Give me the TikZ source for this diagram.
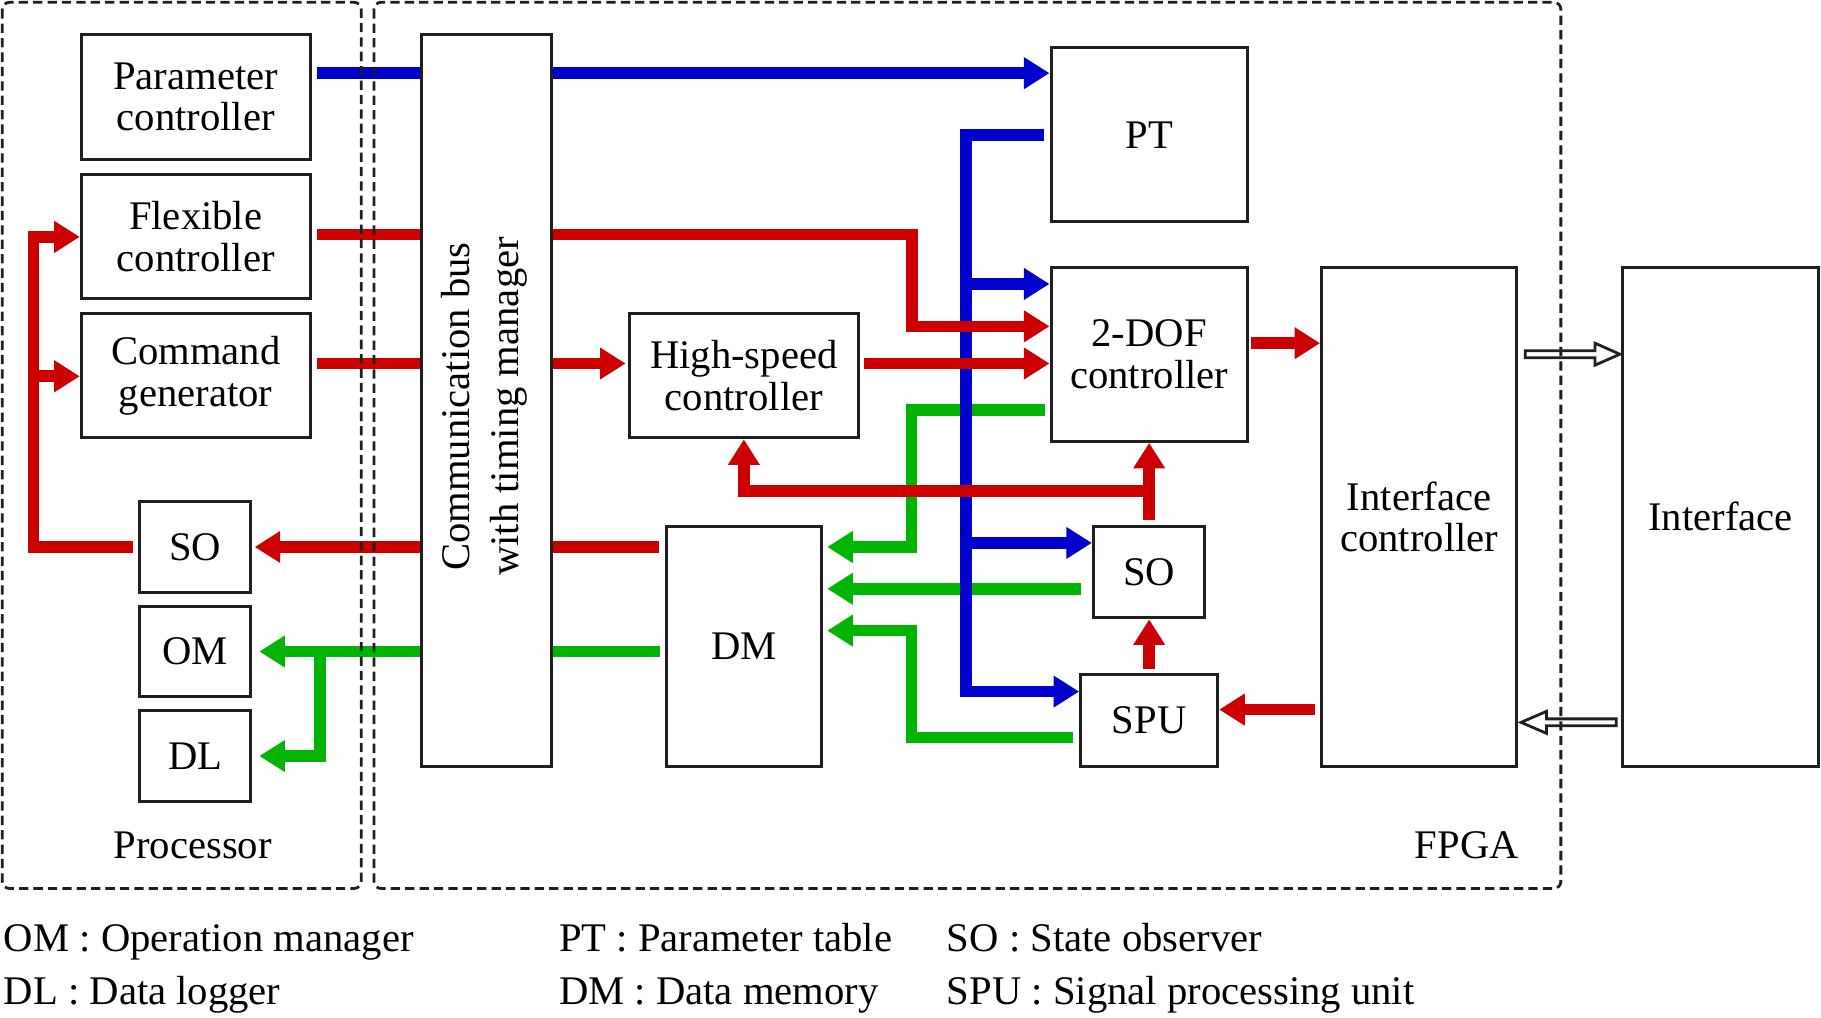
\documentclass[tikz,border=0pt]{standalone}
\usepackage{fontspec}
\setmainfont{Liberation Serif}
\usetikzlibrary{arrows.meta,calc}
\pgfdeclarelayer{background}
\pgfdeclarelayer{foreground}
\pgfsetlayers{background,main,foreground}
\definecolor{cred}{RGB}{204,0,0}
\definecolor{cblue}{RGB}{0,0,204}
\definecolor{cgreen}{RGB}{0,180,0}
\begin{document}
\begin{tikzpicture}[x=0.5pt,y=-0.5pt,
  box/.style={draw=black!88,line width=1.3pt,fill=white,align=center,inner sep=0pt,font=\fontsize{17.5}{18}\selectfont},
  flow/.style={line width=5pt},
  tip/.style={-{Triangle[length=11pt,width=13pt]}},
  rd/.style={flow,draw=cred},
  bl/.style={flow,draw=cblue},
  gr/.style={flow,draw=cgreen},
  hollow/.style={draw=black!88,line width=1.2pt,fill=white,line join=miter},
  region/.style={draw=black!88,line width=1.2pt,dash pattern=on 4pt off 2.2pt,rounded corners=3pt},
  txt/.style={font=\fontsize{17.5}{18}\selectfont,inner sep=0pt}
]
\useasboundingbox (0,0) rectangle (1568,876);

% processor blocks
\node[box,minimum width=98.5pt,minimum height=53.5pt] (param) at (168.5,83.5) {Parameter\\controller};
\node[box,minimum width=98.5pt,minimum height=53.5pt] (flex) at (168.5,203.5) {Flexible\\controller};
\node[box,minimum width=98.5pt,minimum height=53.5pt] (cmd) at (168.5,323.5) {Command\\generator};
\node[box,minimum width=48pt,minimum height=39pt] (so1) at (168,471) {SO};
\node[box,minimum width=48pt,minimum height=39pt] (om) at (168,561) {OM};
\node[box,minimum width=48pt,minimum height=39pt] (dl) at (168,651) {DL};

% bus
\node[box,minimum width=56pt,minimum height=315pt] (bus) at (419,345) {};
\node[txt,rotate=90,align=center,font=\fontsize{17.5}{21}\selectfont] (buslbl) at (417,350) {Communication bus\\with timing manager};

% FPGA blocks
\node[box,minimum width=84.5pt,minimum height=75pt] (pt) at (989.5,116) {PT};
\node[box,minimum width=84.5pt,minimum height=75pt] (dof) at (989.5,305) {2-DOF\\controller};
\node[box,minimum width=98.5pt,minimum height=53.5pt] (hs) at (640.5,323.5) {High-speed\\controller};
\node[box,minimum width=66.5pt,minimum height=103.5pt] (dm) at (640.5,556.5) {DM};
\node[box,minimum width=48pt,minimum height=39.5pt] (so2) at (989.5,492.5) {SO};
\node[box,minimum width=59pt,minimum height=39.5pt] (spu) at (989.5,620.5) {SPU};
\node[box,minimum width=84pt,minimum height=215pt] (ifc) at (1222,445) {Interface\\controller};
\node[box,minimum width=84.5pt,minimum height=215pt] (intf) at (1481.5,445) {Interface};

% connectors
\begin{pgfonlayer}{background}
% green
\draw[gr,tip] ($(dof.west |- 0,353)+(-4,0)$) -- (785,353) -- (785,471) -- ($(dm.east |- 0,471)+(4,0)$);
\draw[gr,tip] ($(so2.west |- 0,507)+(-9,0)$) -- ($(dm.east |- 0,507)+(4,0)$);
\draw[gr,tip] ($(spu.west |- 0,635)+(-5,0)$) -- (785,635) -- (785,543) -- ($(dm.east |- 0,543)+(4,0)$);
\draw[gr,tip] ($(dm.west |- 0,561)+(-4,0)$) -- ($(om.east |- 0,561)+(6,0)$);
\draw[gr,tip] (275.5,561) -- (275.5,651) -- ($(dl.east |- 0,651)+(6,0)$);
% blue
\draw[bl,tip] ($(param.east |- 0,63)+(5,0)$) -- (pt.west |- 0,63);
\draw[bl,tip] ($(pt.west |- 0,116.5)+(-5,0)$) -- (832,116.5) -- (832,595.5) -- (spu.west |- 0,595.5);
\draw[bl,tip] (832,244.5) -- (dof.west |- 0,244.5);
\draw[bl,tip] (832,467.5) -- (so2.west |- 0,467.5);
% red
\draw[rd,tip] ($(flex.east |- 0,202)+(5,0)$) -- (785.5,202) -- (785.5,281) -- (dof.west |- 0,281);
\draw[rd,tip] ($(cmd.east |- 0,313)+(5,0)$) -- ($(hs.west |- 0,313)+(-2,0)$);
\draw[rd,tip] ($(hs.east |- 0,313)+(4,0)$) -- (dof.west |- 0,313);
\draw[rd,tip] ($(dof.south |- so2.north)+(0,-4)$) -- (dof.south);
\draw[rd,tip] (dof.south |- 0,423) -- (hs.south |- 0,423) -- (hs.south);
\draw[rd,tip] ($(spu.north)+(0,-4)$) -- (so2.south);
\draw[rd,tip] ($(ifc.west |- 0,611)+(-4,0)$) -- (spu.east |- 0,611);
\draw[rd,tip] ($(dof.east |- 0,295.5)+(2,0)$) -- (ifc.west |- 0,295.5);
\draw[rd,tip] ($(dm.west |- 0,471)+(-5,0)$) -- ($(so1.east |- 0,471)+(2,0)$);
\draw[rd,tip] ($(so1.west |- 0,471)+(-4,0)$) -- (29,471) -- (29,204) -- (flex.west |- 0,204);
\draw[rd,tip] (29,324) -- (cmd.west |- 0,324);
\end{pgfonlayer}

% hollow arrows
\draw[hollow] ($(ifc.east |- 0,305)+(6,-3)$) -- ++(60,0) -- ++(0,-6.5) -- ++(21.5,9.5) -- ++(-21.5,9.5) -- ++(0,-6.5) -- ++(-60,0) -- cycle;
\draw[hollow] ($(intf.west |- 0,622)+(-4,-3)$) -- ++(-60,0) -- ++(0,-6.5) -- ++(-22,9.5) -- ++(22,9.5) -- ++(0,-6.5) -- ++(60,0) -- cycle;

% regions
\begin{pgfonlayer}{foreground}
\draw[region] (2,2) rectangle (311,765);
\draw[region] (322,2) rectangle (1344,765);
\end{pgfonlayer}
\node[txt,anchor=base] (proclbl) at (166,739) {Processor};
\node[txt,anchor=base] (fpgalbl) at (1263,739) {FPGA};

% legend
\node[txt,anchor=base west] (lg1) at (3,819) {OM : Operation manager};
\node[txt,anchor=base west] (lg2) at (3,865) {DL : Data logger};
\node[txt,anchor=base west] (lg3) at (481,819) {PT : Parameter table};
\node[txt,anchor=base west] (lg4) at (481,865) {DM : Data memory};
\node[txt,anchor=base west] (lg5) at (815,819) {SO : State observer};
\node[txt,anchor=base west] (lg6) at (815,865) {SPU : Signal processing unit};
\end{tikzpicture}
\end{document}
